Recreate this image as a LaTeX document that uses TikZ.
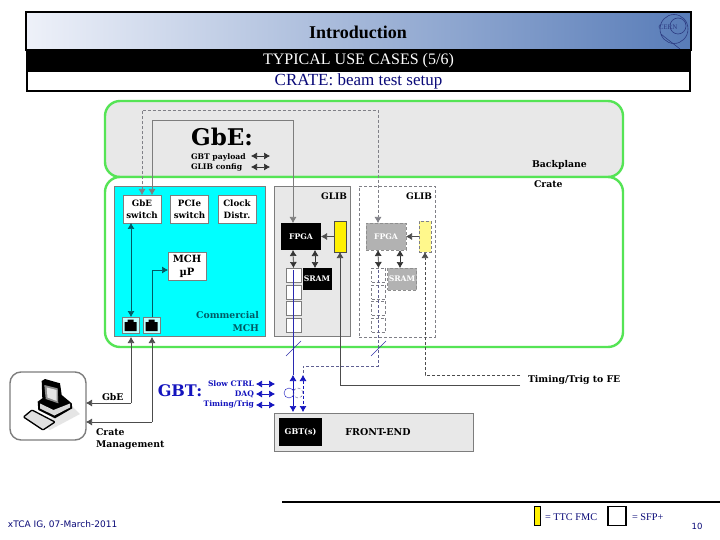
\documentclass[tikz,border=0pt]{standalone}
\usepackage{fontspec}
\setmainfont{DejaVu Serif}
\newfontfamily\headfont{Liberation Serif}
\newfontfamily\footfont{DejaVu Sans}
\usepackage{xcolor}
\usetikzlibrary{arrows.meta, positioning, calc}
\definecolor{PanelGreen}{RGB}{85,228,85}
\definecolor{PanelGray}{RGB}{232,232,232}
\definecolor{WireGray}{RGB}{125,125,125}
\definecolor{WireDash}{RGB}{128,128,135}
\definecolor{GhostGray}{RGB}{178,178,178}
\definecolor{McCyan}{RGB}{0,255,255}
\definecolor{McTeal}{RGB}{0,90,100}
\definecolor{GbtBlue}{RGB}{20,20,190}
\definecolor{HeadBlue}{RGB}{10,10,120}
\definecolor{FmcYellow}{RGB}{255,240,0}
\definecolor{HeadLeft}{RGB}{238,241,249}
\definecolor{HeadMid}{RGB}{214,221,237}
\definecolor{HeadRight}{RGB}{88,124,184}
\definecolor{LogoBlue}{RGB}{45,60,130}
\newcommand{\sz}[1]{\fontsize{#1}{#1}\selectfont}

\begin{document}
\begin{tikzpicture}[
  x=1pt, y=-1pt,
  every node/.style={inner sep=0pt, outer sep=0pt, font=\bfseries\sz{9}},
  panel/.style={draw=PanelGreen, line width=2.4pt, rounded corners=15pt},
  whitebox/.style={draw=WireGray, line width=0.4pt, fill=white, align=center, font=\bfseries\sz{8.7}},
  blackbox/.style={fill=black, text=white, align=center, font=\bfseries\sz{7.7}},
  ghostbox/.style={fill=GhostGray, draw=GhostGray!80!black, densely dashed, line width=0.4pt, text=white, align=center, font=\bfseries\sz{7.7}},
  glibbox/.style={draw=WireGray, fill=PanelGray, line width=0.6pt},
  cellbox/.style={draw=WireGray, fill=white, line width=0.5pt},
  ghostcell/.style={draw=WireDash, densely dashed, line width=0.5pt},
  jack/.style={fill=white!75!McCyan, draw=WireGray, line width=0.3pt},
  wire/.style={draw=WireGray, line width=0.7pt},
  dashwire/.style={draw=WireDash, densely dashed, line width=0.6pt},
  arrow/.style={-{Latex[length=6pt, width=7pt]}, draw=black!70, line width=0.6pt},
  twoway/.style={{Latex[length=6pt, width=7pt]}-{Latex[length=6pt, width=7pt]}, draw=black!80, line width=0.6pt},
  gbtway/.style={{Latex[length=6pt, width=7pt]}-{Latex[length=6pt, width=7pt]}, draw=GbtBlue, line width=0.6pt},
  lbl/.style={anchor=west, font=\bfseries\sz{9.3}},
  gbtlbl/.style={anchor=east, text=GbtBlue, font=\bfseries\sz{7.6}}
]
\useasboundingbox (0,0) rectangle (720,540);
\fill[white] (0,0) rectangle (720,540);

% header
\path[left color=HeadLeft, middle color=HeadMid, right color=HeadRight, draw=black, line width=2pt] (26,12) rectangle (691,50);
\node[font=\headfont\bfseries\sz{18}] (title) at (358,32) {Introduction};
\draw[LogoBlue, line width=0.6pt] (674,29) ellipse (14pt and 14.5pt) (678,26) circle (8pt);
\draw[LogoBlue, line width=0.6pt] (661,34) .. controls (668,40) and (674,44) .. (680,49);
\node[text=LogoBlue, font=\headfont\sz{7}] (cern) at (668,27) {CERN};
\node[fill=black, text=white, minimum width=665pt, minimum height=21pt, font=\headfont\sz{16}] (subtitle) at (358.5,60.5) {TYPICAL USE CASES (5/6)};
\node[draw=black, line width=1.2pt, fill=white, text=HeadBlue, minimum width=663pt, minimum height=20pt, font=\headfont\sz{17}] (slide) at (358.5,81) {CRATE: beam test setup};

% backplane and crate
\node[panel, fill=PanelGray, minimum width=518pt, minimum height=76pt] (backplane) at (364,139) {};
\node[panel, fill=white, minimum width=518pt, minimum height=170pt] (crate) at (364,262) {};
\node[lbl] (bplabel) at (532,165) {Backplane};
\node[lbl] (cratelabel) at (534,184) {Crate};
\node[font=\bfseries\sz{23}] (gbe) at (222,137) {GbE:};
\node[lbl, font=\bfseries\sz{7.7}] (payload) at (191,157) {GBT payload};
\node[lbl, font=\bfseries\sz{7.7}] (config) at (191,167) {GLIB config};
\coordinate (payloadl) at (251,156);
\coordinate (payloadr) at (270,156);
\coordinate (configl) at (251,167);
\coordinate (configr) at (270,167);
\draw[twoway] (payloadl) -- (payloadr);
\draw[twoway] (configl) -- (configr);

% commercial MCH
\node[fill=McCyan, draw=WireGray, line width=0.4pt, minimum width=151pt, minimum height=150pt] (mch) at (189.5,261) {};
\node[whitebox, minimum width=38pt, minimum height=28pt] (gbesw) at (142,209) {GbE\\[3pt]switch};
\node[whitebox, minimum width=38pt, minimum height=28pt] (pciesw) at (189.5,209) {PCIe\\[3pt]switch};
\node[whitebox, minimum width=38pt, minimum height=28pt] (clock) at (237,209) {Clock\\[3pt]Distr.};
\node[whitebox, minimum width=38pt, minimum height=28pt, font=\bfseries\sz{10}] (mcp) at (187,266) {MCH\\[3pt]\textmu P};
\node[jack, minimum width=17pt, minimum height=16pt] (jacka) at (130.5,325) {};
\node[jack, minimum width=17pt, minimum height=16pt] (jackb) at (151.5,325) {};
\foreach \jx in {130.5,151.5} {
  \fill[black] (\jx-6,322) -- (\jx-3,322) -- (\jx-3,319.5) -- (\jx+3,319.5) -- (\jx+3,322) -- (\jx+6,322) -- (\jx+6,331) -- (\jx-6,331) -- cycle;
}
\node[anchor=east, align=right, text=McTeal, font=\bfseries\sz{9.3}] (mchlabel) at (259,321.5) {Commercial\\[3pt]MCH};

% first GLIB
\node[glibbox, minimum width=76pt, minimum height=150pt] (glib) at (312,261) {};
\node[anchor=east] (gliblabel) at (347,196) {GLIB};
\node[blackbox, minimum width=40pt, minimum height=27pt] (fpga) at (301,236.5) {FPGA};
\node[draw=black!70, fill=FmcYellow, line width=0.5pt, minimum width=12pt, minimum height=31pt] (fmc) at (340,236.5) {};
\node[blackbox, minimum width=29pt, minimum height=22pt] (sram) at (317,279) {SRAM};
\node[cellbox, minimum width=15pt, minimum height=14pt] (sfpa) at (293.5,275) {};
\node[cellbox, minimum width=15pt, minimum height=14pt] (sfpb) at (293.5,292) {};
\node[cellbox, minimum width=15pt, minimum height=14pt] (sfpc) at (293.5,308) {};
\node[cellbox, minimum width=15pt, minimum height=14pt] (sfpd) at (293.5,325) {};

% second GLIB
\node[draw=WireDash, densely dashed, fill=white, line width=0.6pt, minimum width=76pt, minimum height=151pt] (glibb) at (397,261.5) {};
\node[anchor=east] (glibblabel) at (432,196) {GLIB};
\node[ghostbox, minimum width=40pt, minimum height=27pt] (fpgab) at (386,236.5) {FPGA};
\node[draw=WireDash, densely dashed, fill=FmcYellow!45!white, line width=0.5pt, minimum width=12pt, minimum height=31pt] (fmcb) at (425,236.5) {};
\node[ghostbox, minimum width=29pt, minimum height=22pt] (sramb) at (402,279) {SRAM};
\node[ghostcell, minimum width=14pt, minimum height=14pt] (sfpe) at (378.5,275) {};
\node[ghostcell, minimum width=14pt, minimum height=14pt] (sfpf) at (378.5,292) {};
\node[ghostcell, minimum width=14pt, minimum height=14pt] (sfpg) at (378.5,308) {};
\node[ghostcell, minimum width=14pt, minimum height=14pt] (sfph) at (378.5,325) {};

% links on the boards
\coordinate (swtop) at (152,195);
\coordinate (dashtop) at (142,110);
\coordinate (solidtop) at (152,120);
\coordinate (ftop) at (293,120);
\coordinate (fin) at (293,223);
\coordinate (dashright) at (378,110);
\coordinate (fbin) at (378,223);
\draw[twoway, draw=WireGray] (swtop) -- (solidtop) -- (ftop) -- (fin);
\draw[twoway, draw=WireDash, densely dashed] (gbesw.north) -- (dashtop) -- (dashright) -- (fbin);
\coordinate (swb) at (131,223);
\coordinate (ja) at (131,317);
\coordinate (ma) at (152,317);
\coordinate (mb) at (152,270);
\draw[twoway, draw=McTeal] (swb) -- (ja);
\draw[arrow, draw=McTeal] (ma) -- (mb) -- (mcp.west |- mb);
\draw[arrow] (fmc.west) -- (fpga.east);
\draw[arrow] (fmcb.west) -- (fpgab.east);
\draw[twoway] (293,250) -- (sfpa.north);
\draw[twoway] (315,250) -- (315,268);
\draw[twoway] (378,250) -- (sfpe.north);
\draw[twoway] (400,250) -- (400,268);

% out of the crate
\node[draw=WireGray, line width=1.4pt, rounded corners=11pt, fill=white, minimum width=76pt, minimum height=68pt] (host) at (48,406) {};
\fill[black!10] (40,424) -- (72,406) -- (80,414) -- (50,430) -- cycle;
\fill[black] (41.7,381) -- (45,379) -- (60,383.3) -- (61.7,395) -- (71.7,403.3) -- (72.3,408.3) -- (55,418.3) -- (38.3,410) -- (37.7,401.7) -- (42.3,398.3) -- cycle;
\fill[black!45] (44.3,385) -- (57.7,388.3) -- (58.3,403.3) -- (45.7,399) -- cycle;
\fill[black!10] (46.7,387.5) -- (56.5,390) -- (56.7,401) -- (47.5,397.5) -- cycle;
\fill[black!15] (40,403.5) -- (53.5,410) -- (70,403.5) -- (70,407.5) -- (54.5,415.5) -- (40,408.5) -- cycle;
\draw[black, fill=black!12, line width=1.3pt, rounded corners=1pt] (23.5,417) -- (32,410) -- (55,422) -- (43,430) -- cycle;
\node[lbl] (gbelink) at (102,397) {GbE};
\node[lbl, align=left] (cratemgmt) at (96,439) {Crate\\[3pt]Management};
\coordinate (ga) at (131,403);
\coordinate (gb) at (152,422);
\draw[wire, arrow] (ga) -- (131,337);
\draw[wire, arrow] (gb) -- (152,337);
\draw[wire, arrow] (ga) -- (host.east |- ga);
\draw[wire, arrow] (gb) -- (host.east |- gb);

% GBT links
\node[text=GbtBlue, font=\bfseries\sz{16}] (gbt) at (180,391) {GBT:};
\node[gbtlbl] (slow) at (254,384) {Slow CTRL};
\node[gbtlbl] (daq) at (254,394) {DAQ};
\node[gbtlbl] (trig) at (254,404) {Timing/Trig};
\coordinate (slowl) at (256,384);
\coordinate (slowr) at (275,384);
\coordinate (daql) at (256,394);
\coordinate (daqr) at (275,394);
\coordinate (trigl) at (256,405);
\coordinate (trigr) at (275,405);
\draw[gbtway] (slowl) -- (slowr);
\draw[gbtway] (daql) -- (daqr);
\draw[gbtway] (trigl) -- (trigr);
\node[glibbox, line width=0.8pt, minimum width=199pt, minimum height=38pt] (frontend) at (373.5,432) {};
\node[blackbox, minimum width=43pt, minimum height=28pt, font=\bfseries\sz{8}] (gbts) at (300.5,432) {GBT(s)};
\node[font=\bfseries\sz{9.5}] (felabel) at (378,432) {FRONT-END};
\coordinate (blueup) at (293,375);
\coordinate (bluedown) at (293,412);
\coordinate (dashup) at (303,375);
\coordinate (dashdown) at (303,412);
\coordinate (bluetop) at (293,270);
\coordinate (ghosttop) at (378,270);
\coordinate (ghostbend) at (378,366);
\coordinate (ghostleft) at (303,366);
\draw[GbtBlue!80!gray, line width=0.6pt] (bluetop) -- (blueup);
\draw[gbtway] (blueup) -- (bluedown);
\draw[gbtway, densely dashed] (dashup) -- (dashdown);
\draw[dashwire, draw=GbtBlue!30!gray] (ghosttop) -- (ghostbend) -- (ghostleft) -- (dashup);
\node[draw=GbtBlue, circle, line width=0.4pt, minimum size=10pt] (ringa) at (289,393) {};
\node[draw=GbtBlue!30!gray, densely dashed, circle, line width=0.4pt, minimum size=10pt] (ringb) at (298,393) {};
\draw[GbtBlue!70!gray, line width=0.5pt] (286,356) -- (301,341);
\draw[GbtBlue!70!gray, line width=0.5pt] (371,356) -- (386,341);
\node[lbl] (fetrig) at (528,380) {Timing/Trig to FE};
\coordinate (tsolid) at (520,385);
\coordinate (tcorner) at (340,385);
\coordinate (tdash) at (520,375);
\coordinate (tdcorner) at (425,375);
\draw[wire, arrow] (tsolid) -- (tcorner) -- (fmc.south);
\draw[dashwire, arrow, densely dashed] (tdash) -- (tdcorner) -- (fmcb.south);

% footer
\coordinate (rulea) at (282,502);
\coordinate (ruleb) at (720,502);
\draw[black, line width=1.6pt] (rulea) -- (ruleb);
\node[draw=black, line width=1.2pt, fill=FmcYellow, minimum width=6pt, minimum height=19pt] (keyfmc) at (537.5,516) {};
\node[anchor=west, text=HeadBlue, font=\headfont\sz{10.3}] (keyfmctext) at (545,517) {= TTC FMC};
\node[draw=black, line width=1.2pt, fill=white, minimum width=18pt, minimum height=19pt] (keysfp) at (617,516) {};
\node[anchor=west, text=HeadBlue, font=\headfont\sz{10.3}] (keysfptext) at (632,517) {= SFP+};
\node[anchor=west, text=HeadBlue, font=\footfont\mdseries\sz{9}] (date) at (8,525) {xTCA IG, 07-March-2011};
\node[font=\footfont\mdseries\sz{8.5}, text=HeadBlue] (pageno) at (697,526) {10};
\end{tikzpicture}
\end{document}
